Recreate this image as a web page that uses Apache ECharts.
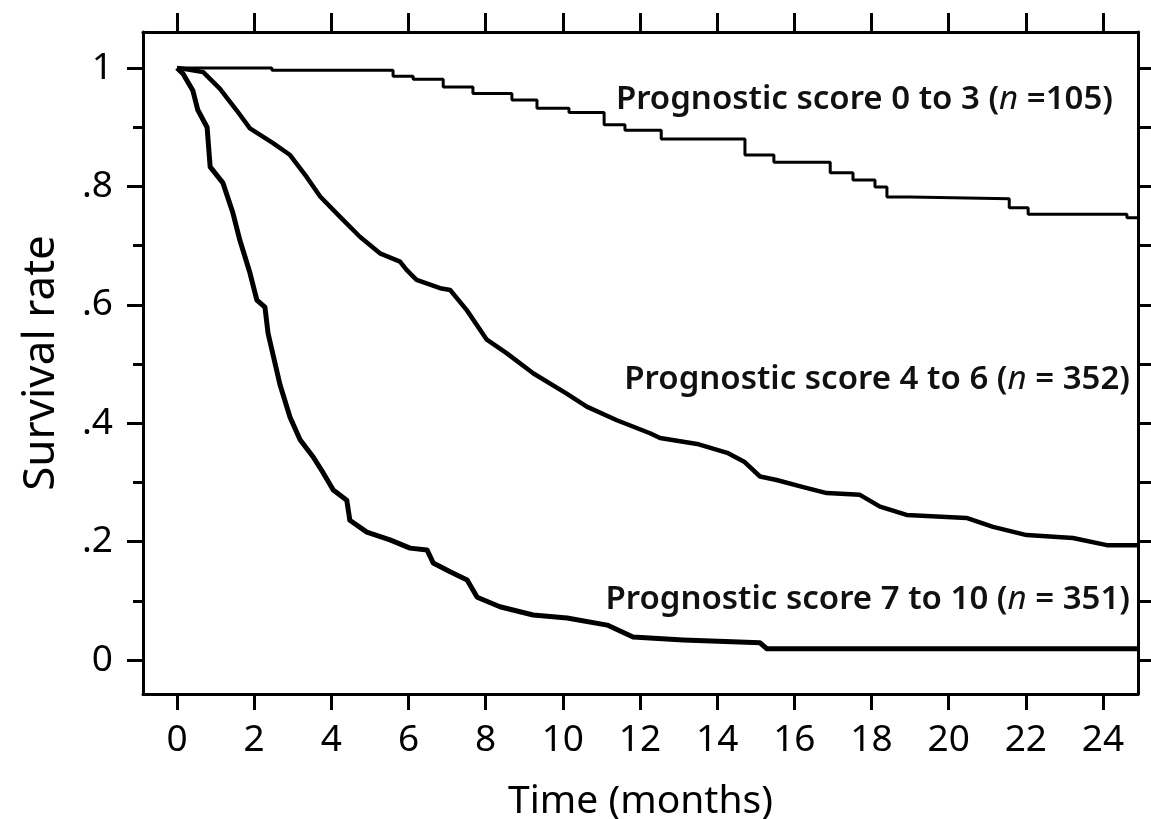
<!DOCTYPE html>
<html>
<head>
<meta charset="utf-8">
<script src="https://cdn.jsdelivr.net/npm/echarts@6/dist/echarts.min.js"></script>
<style>
html,body{margin:0;padding:0;background:#fff;}
#c{width:1151px;height:819px;}
</style>
</head>
<body>
<div id="c"></div>
<script>
// ---- data ----
const xTicks = [0,2,4,6,8,10,12,14,16,18,20,22,24];
const yMajorTicks = [0,0.2,0.4,0.6,0.8,1];
const yMinorTicks = [0.1,0.3,0.5,0.7,0.9];
const yAllTicks = [0,0.1,0.2,0.3,0.4,0.5,0.6,0.7,0.8,0.9,1];

// Prognostic score 0 to 3 (n = 105)
const months03 = [0,2.46,5.6,6.12,6.9,7.67,8.68,9.33,10.16,11.07,11.61,12.55,14.72,15.47,16.93,17.52,18.09,18.4,19.0,21.57,22.06,24.62,24.9];
const surv03   = [1.0,0.996,0.986,0.981,0.968,0.957,0.946,0.932,0.925,0.904,0.895,0.880,0.853,0.841,0.823,0.811,0.799,0.782,0.779,0.764,0.753,0.747,0.747];

// Prognostic score 4 to 6 (n = 352)
const months46 = [0,0.25,0.68,1.11,1.54,1.89,2.49,2.93,3.36,3.71,4.22,4.74,5.26,5.78,5.95,6.21,6.82,7.08,7.51,8.03,8.55,9.24,10.1,10.62,11.4,12.26,12.52,13.48,14.26,14.7,15.11,15.54,16.23,16.84,17.7,18.22,18.91,20.46,21.15,22.02,23.22,24.1,24.9];
const surv46   = [1.0,0.998,0.993,0.965,0.929,0.898,0.873,0.853,0.816,0.783,0.749,0.715,0.687,0.673,0.659,0.642,0.628,0.625,0.591,0.541,0.518,0.484,0.450,0.428,0.405,0.383,0.375,0.365,0.350,0.335,0.310,0.304,0.292,0.282,0.279,0.259,0.245,0.240,0.225,0.211,0.206,0.194,0.194];

// Prognostic score 7 to 10 (n = 351)
const months710 = [0,0.16,0.41,0.54,0.78,0.86,1.19,1.45,1.63,1.89,2.07,2.28,2.36,2.67,2.93,3.19,3.53,3.79,4.05,4.40,4.48,4.92,5.52,6.04,6.48,6.64,7.08,7.52,7.78,8.37,9.23,10.11,11.15,11.82,13.12,15.11,15.29,24.9];
const surv710   = [1.0,0.99,0.962,0.929,0.900,0.833,0.806,0.755,0.709,0.654,0.608,0.596,0.552,0.465,0.410,0.372,0.343,0.316,0.287,0.270,0.236,0.216,0.203,0.189,0.186,0.164,0.149,0.135,0.106,0.090,0.076,0.071,0.059,0.039,0.034,0.029,0.019,0.019];

const labels = [
  ['Prognostic score 0 to 3 (', 'n', ' =105)'],
  ['Prognostic score 4 to 6 (', 'n', ' = 352)'],
  ['Prognostic score 7 to 10 (', 'n', ' = 351)']
];

// ---- chart ----
const zip = (a, b) => a.map((v, i) => [v, b[i]]);
const FONT = 'Noto Sans';
const X_MIN = -0.881, X_MAX = 24.907, Y_MIN = -0.0574, Y_MAX = 1.0608;
const black = '#000';

const chart = echarts.init(document.getElementById('c'), null, {renderer: 'canvas'});

const lineAxis = {lineStyle: {color: black, width: 3}, onZero: false};

function labelText(parts) {
  return '{r|' + parts[0] + '}{i|' + parts[1] + '}{r|' + parts[2] + '}';
}
const rich = {
  r: {fontSize: 33, fontFamily: FONT, fill: '#111', fontWeight: 600},
  i: {fontSize: 33, fontFamily: FONT, fill: '#111', fontStyle: 'italic'}
};

chart.setOption({
  animation: false,
  backgroundColor: '#fff',
  grid: {left: 143, right: 13, top: 32, bottom: 125, containLabel: false, outerBoundsMode: 'none'},
  xAxis: [
    {
      type: 'value', position: 'bottom', min: X_MIN, max: X_MAX,
      axisLine: lineAxis,
      axisTick: {customValues: xTicks, length: 16, lineStyle: {color: black, width: 3}},
      axisLabel: {customValues: xTicks, fontSize: 37, fontFamily: FONT, color: black, margin: 28},
      splitLine: {show: false},
      name: 'Time (months)', nameLocation: 'middle', nameGap: 88,
      nameTextStyle: {fontSize: 39, fontFamily: FONT, color: black}
    },
    {
      type: 'value', position: 'top', min: X_MIN, max: X_MAX,
      axisLine: lineAxis,
      axisTick: {customValues: xTicks, length: 19, lineStyle: {color: black, width: 3}},
      axisLabel: {show: false},
      splitLine: {show: false}
    }
  ],
  yAxis: [
    {
      type: 'value', position: 'left', min: Y_MIN, max: Y_MAX,
      axisLine: lineAxis,
      axisTick: {customValues: yMajorTicks, length: 16, lineStyle: {color: black, width: 3}},
      axisLabel: {
        customValues: yMajorTicks, fontSize: 37, fontFamily: FONT, color: black, margin: 30,
        formatter: v => (v === 0 ? '0' : v === 1 ? '1' : String(+v.toFixed(1)).replace(/^0\./, '.'))
      },
      splitLine: {show: false},
      name: 'Survival rate', nameLocation: 'middle', nameGap: 80,
      nameTextStyle: {fontSize: 44, fontFamily: FONT, color: black}
    },
    {
      type: 'value', position: 'left', min: Y_MIN, max: Y_MAX,
      axisLine: {show: false, onZero: false},
      axisTick: {customValues: yMinorTicks, length: 10, lineStyle: {color: black, width: 3}},
      axisLabel: {show: false},
      splitLine: {show: false}
    },
    {
      type: 'value', position: 'right', min: Y_MIN, max: Y_MAX,
      axisLine: lineAxis,
      axisTick: {customValues: yAllTicks, length: 13, lineStyle: {color: black, width: 3}},
      axisLabel: {show: false},
      splitLine: {show: false}
    }
  ],
  series: [
    {
      type: 'line', name: '0-3', data: zip(months03, surv03), step: 'end',
      showSymbol: false, lineStyle: {color: black, width: 3}, silent: true
    },
    {
      type: 'line', name: '4-6', data: zip(months46, surv46),
      showSymbol: false, lineStyle: {color: black, width: 4.5, join: 'round'}, silent: true
    },
    {
      type: 'line', name: '7-10', data: zip(months710, surv710),
      showSymbol: false, lineStyle: {color: black, width: 5, join: 'round'}, silent: true
    }
  ],
  graphic: [
    {type: 'text', x: 1113, y: 100, style: {text: labelText(labels[0]), rich: rich, align: 'right', verticalAlign: 'middle'}},
    {type: 'text', x: 1130, y: 380, style: {text: labelText(labels[1]), rich: rich, align: 'right', verticalAlign: 'middle'}},
    {type: 'text', x: 1130, y: 600, style: {text: labelText(labels[2]), rich: rich, align: 'right', verticalAlign: 'middle'}}
  ]
});
</script>
</body>
</html>
